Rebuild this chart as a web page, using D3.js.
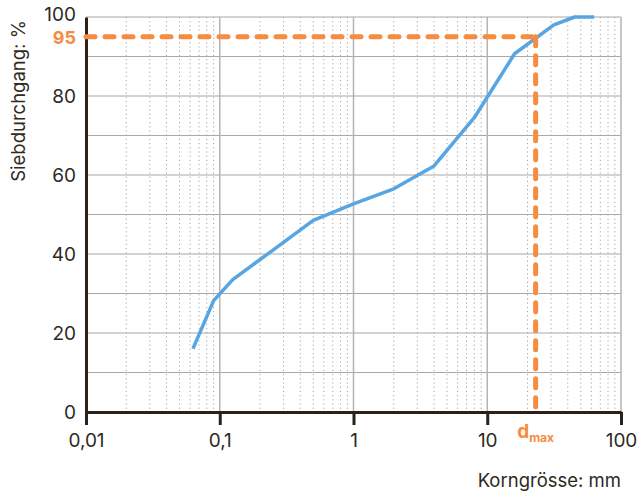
<!DOCTYPE html>
<html>
<head>
<meta charset="utf-8">
<script src="https://cdn.jsdelivr.net/npm/d3@7"></script>
<style>
  body { margin: 0; background: #fff; }
  text { font-family: Inter, "Noto Sans", sans-serif; }
</style>
</head>
<body>
<div id="chart"></div>
<script>
// Korngrösse in mm and Siebdurchgang in %
const grainSizes = [0.063, 0.09, 0.125, 0.25, 0.5, 1, 2, 4, 8, 16, 31.5, 45, 63];
const passing = [16, 28.2, 33.5, 41, 48.5, 52.7, 56.5, 62.3, 74.5, 90.7, 98, 100, 100];
const dmax = 23;
const dmaxPassing = 95;
const xTickValues = [0.01, 0.1, 1, 10, 100];
const xTickLabels = ['0,01', '0,1', '1', '10', '100'];
const yTickValues = [0, 20, 40, 60, 80, 100];

const width = 638;
const height = 495;
const margin = { top: 17, right: 17, bottom: 83, left: 86 };

const svg = d3.select('#chart')
    .append('svg')
        .attr('width', width)
        .attr('height', height);

const x = d3.scaleLog()
    .domain([0.01, 100])
    .range([margin.left, width - margin.right]);

const y = d3.scaleLinear()
    .domain([0, 100])
    .range([height - margin.bottom, margin.top]);

const orange = '#f78c3e';
const blue = '#57a5e2';
const axisColor = '#2b2118';

// minor vertical gridlines (2..9 of each decade)
const minorX = [];
for (let e = -2; e < 2; e++) {
    for (let m = 2; m <= 9; m++) minorX.push(m * Math.pow(10, e));
}
svg.append('g')
    .selectAll('line')
    .data(minorX)
    .join('line')
        .attr('x1', d => x(d))
        .attr('x2', d => x(d))
        .attr('y1', y(100))
        .attr('y2', y(0))
        .attr('stroke', '#a5a5a5')
        .attr('stroke-width', 1)
        .attr('stroke-dasharray', '1.2,3');

// horizontal gridlines every 10 %
svg.append('g')
    .selectAll('line')
    .data(d3.range(10, 101, 10))
    .join('line')
        .attr('x1', x(0.01))
        .attr('x2', x(100))
        .attr('y1', d => y(d))
        .attr('y2', d => y(d))
        .attr('stroke', '#a8a8a8')
        .attr('stroke-width', 1.2);

// major vertical gridlines at decades
svg.append('g')
    .selectAll('line')
    .data(xTickValues.slice(1))
    .join('line')
        .attr('x1', d => x(d))
        .attr('x2', d => x(d))
        .attr('y1', y(100))
        .attr('y2', y(0))
        .attr('stroke', '#b5b5b5')
        .attr('stroke-width', 1.5);

// x axis
const xAxis = d3.axisBottom(x)
    .tickValues(xTickValues)
    .tickFormat((d, i) => xTickLabels[i])
    .tickSize(13)
    .tickSizeOuter(0)
    .tickPadding(9);

const gx = svg.append('g')
    .attr('transform', `translate(0,${y(0)})`)
    .call(xAxis);
gx.select('.domain').attr('stroke', axisColor).attr('stroke-width', 3);
gx.selectAll('.tick line').attr('stroke', axisColor).attr('stroke-width', 3);
gx.selectAll('.tick text')
    .attr('fill', '#2e2a22')
    .attr('font-size', 19);

// y axis
const yAxis = d3.axisLeft(y)
    .tickValues(yTickValues)
    .tickSize(0)
    .tickPadding(10);

const gy = svg.append('g')
    .attr('transform', `translate(${x(0.01)},0)`)
    .call(yAxis);
gy.select('.domain').attr('stroke', axisColor).attr('stroke-width', 3);
gy.selectAll('.tick text')
    .attr('fill', '#2e2a22')
    .attr('font-size', 19);
gy.selectAll('.tick')
    .filter(d => d === 100)
    .select('text')
    .attr('dy', '0.2em');

// grading curve
const line = d3.line()
    .x((d, i) => x(grainSizes[i]))
    .y(d => y(d));

svg.append('path')
    .datum(passing)
    .attr('d', line)
    .attr('fill', 'none')
    .attr('stroke', blue)
    .attr('stroke-width', 3.5)
    .attr('stroke-linejoin', 'round');

// dmax guide lines
svg.append('path')
    .attr('d', `M${x(0.01)},${y(dmaxPassing)}H${x(dmax)}`)
    .attr('fill', 'none')
    .attr('stroke', orange)
    .attr('stroke-width', 5)
    .attr('stroke-linecap', 'round')
    .attr('stroke-dasharray', '9,10');

svg.append('path')
    .attr('d', `M${x(dmax)},${y(dmaxPassing)}V${y(0)}`)
    .attr('fill', 'none')
    .attr('stroke', orange)
    .attr('stroke-width', 5)
    .attr('stroke-linecap', 'round')
    .attr('stroke-dasharray', '9,10');

svg.append('text')
    .attr('x', x(0.01) - 10)
    .attr('y', y(dmaxPassing))
    .attr('dy', '0.42em')
    .attr('text-anchor', 'end')
    .attr('fill', orange)
    .attr('font-size', 18)
    .attr('font-weight', 'bold')
    .text(dmaxPassing);

const dmaxLabel = svg.append('text')
    .attr('x', x(dmax))
    .attr('y', y(0) + 26)
    .attr('text-anchor', 'middle')
    .attr('fill', orange)
    .attr('font-weight', 'bold');
dmaxLabel.append('tspan').attr('font-size', 19).text('d');
dmaxLabel.append('tspan').attr('font-size', 12).attr('dy', 4).text('max');

// axis titles
svg.append('text')
    .attr('transform', `translate(25,${(y(100) + 185) / 2}) rotate(-90)`)
    .attr('text-anchor', 'middle')
    .attr('fill', '#2e2a22')
    .attr('font-size', 18.5)
    .text('Siebdurchgang: %');

svg.append('text')
    .attr('x', x(100))
    .attr('y', 487)
    .attr('text-anchor', 'end')
    .attr('fill', '#2e2a22')
    .attr('font-size', 18.5)
    .text('Korngrösse: mm');
</script>
</body>
</html>
